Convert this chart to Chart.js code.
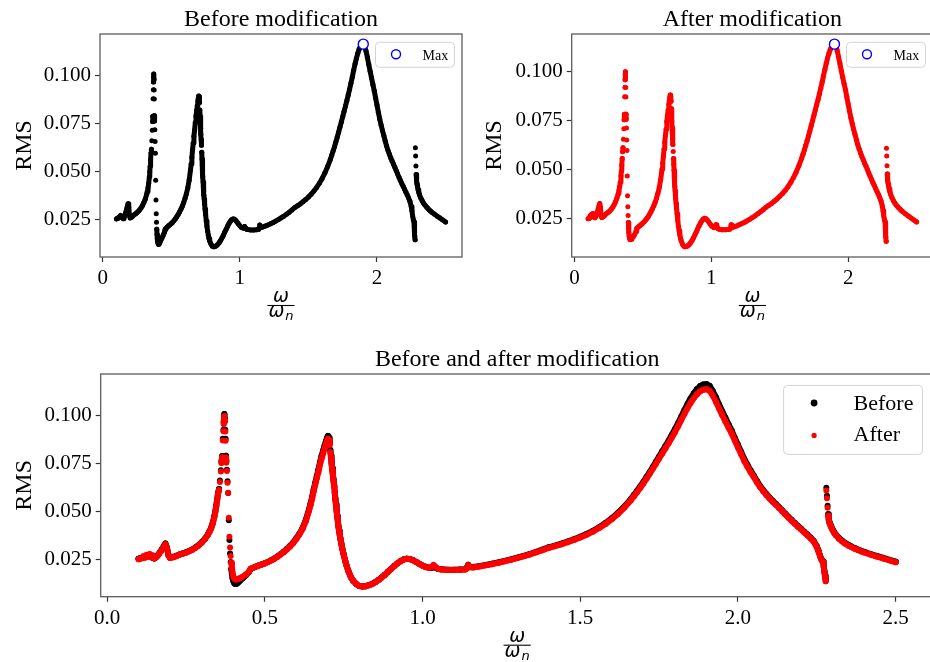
<!DOCTYPE html>
<html>
<head>
<meta charset="utf-8">
<title>RMS before and after modification</title>
<script src="https://cdn.jsdelivr.net/npm/chart.js@4.4.1/dist/chart.umd.min.js"></script>
<style>
  html, body { margin: 0; padding: 0; background: #fff; overflow: hidden; width: 930px; height: 662px; }
  canvas { position: absolute; }
  #before { left: 0; top: 0; }
  #after { left: 470px; top: 0; }
  #both { left: 0; top: 340px; }
</style>
</head>
<body>
<canvas id="before" width="470" height="330"></canvas>
<canvas id="after" width="470" height="330"></canvas>
<canvas id="both" width="940" height="322"></canvas>
<script>
// frequency ratio w/wn (x) and RMS response
const omega = [
  0.100,0.105,0.110,0.115,0.120,0.125,0.130,0.135,0.140,0.145,
  0.150,0.155,0.160,0.165,0.170,0.175,0.180,0.185,0.190,0.195,
  0.200,0.210,0.220,0.230,0.240,0.250,0.260,0.270,0.280,0.290,
  0.300,0.310,0.320,0.325,0.330,0.335,0.340,0.343,0.346,0.349,
  0.352,0.355,0.358,0.361,0.363,0.365,0.367,0.369,0.370,0.371,
  0.372,0.374,0.375,0.376,0.377,0.378,0.380,0.382,0.384,0.386,
  0.388,0.390,0.392,0.394,0.396,0.398,0.400,0.403,0.406,0.410,
  0.415,0.420,0.430,0.440,0.450,0.455,0.460,0.470,0.480,0.490,
  0.500,0.510,0.520,0.530,0.540,0.550,0.560,0.570,0.580,0.590,
  0.600,0.610,0.620,0.630,0.640,0.645,0.650,0.655,0.660,0.665,
  0.670,0.675,0.680,0.685,0.690,0.694,0.697,0.700,0.702,0.704,0.706,0.708,
  0.710,0.712,0.714,0.716,0.718,0.720,0.722,0.724,0.726,0.728,
  0.730,0.732,0.734,0.736,0.738,0.740,0.743,0.746,0.750,0.755,
  0.760,0.765,0.770,0.775,0.780,0.790,0.800,0.810,0.820,0.830,
  0.840,0.850,0.860,0.870,0.880,0.890,0.900,0.910,0.920,0.930,
  0.940,0.950,0.960,0.970,0.980,0.990,1.000,1.010,1.020,1.030,
  1.035,1.040,1.050,1.060,1.080,1.100,1.120,1.135,1.140,1.145,
  1.150,1.160,1.180,1.200,1.220,1.240,1.260,1.280,1.300,1.320,
  1.340,1.360,1.380,1.400,1.420,1.440,1.460,1.480,1.500,1.520,
  1.540,1.560,1.580,1.600,1.620,1.640,1.660,1.670,1.680,1.690,
  1.700,1.710,1.720,1.730,1.740,1.750,1.760,1.770,1.780,1.790,
  1.800,1.810,1.820,1.830,1.840,1.850,1.860,1.870,1.880,1.890,
  1.900,1.910,1.920,1.930,1.940,1.950,1.960,1.970,1.980,1.990,
  2.000,2.010,2.020,2.030,2.040,2.050,2.060,2.070,2.080,2.090,
  2.100,2.110,2.120,2.130,2.140,2.150,2.160,2.170,2.180,2.190,
  2.200,2.210,2.220,2.230,2.240,2.250,2.255,2.260,2.265,2.270,
  2.272,2.274,2.276,2.278,2.280,2.282,2.284,2.286,2.288,2.290,
  2.293,2.296,2.300,2.305,2.310,2.320,2.330,2.340,2.350,2.360,
  2.370,2.380,2.390,2.400,2.420,2.440,2.460,2.480,2.500
];

const rmsBefore = [
  0.0254,0.0256,0.0257,0.0261,0.0264,0.0268,0.0272,0.0266,0.0262,0.0258,
  0.0255,0.0260,0.0270,0.0281,0.0293,0.0306,0.0320,0.0333,0.0312,0.0272,
  0.0259,0.0263,0.0269,0.0276,0.0281,0.0287,0.0294,0.0302,0.0312,0.0324,
  0.0339,0.0357,0.0382,0.0397,0.0415,0.0440,0.0474,0.0499,0.0529,0.0563,
  0.0598,0.0618,0.0662,0.0716,0.0762,0.0790,0.0881,0.0928,0.0968,0.0994,
  0.1010,0.0982,0.0927,0.0880,0.0792,0.0765,0.0719,0.0658,0.0597,0.0455,
  0.0352,0.0281,0.0236,0.0200,0.0172,0.0152,0.0139,0.0127,0.0121,0.0122,
  0.0128,0.0136,0.0151,0.0167,0.0184,0.0199,0.0204,0.0211,0.0218,0.0224,
  0.0230,0.0237,0.0245,0.0255,0.0265,0.0277,0.0290,0.0304,0.0320,0.0338,
  0.0360,0.0385,0.0415,0.0455,0.0510,0.0540,0.0575,0.0615,0.0650,0.0685,
  0.0718,0.0757,0.0790,0.0818,0.0847,0.0868,0.0884,0.0895,0.0893,0.0885,0.0862,0.0822,
  0.0790,0.0756,0.0726,0.0696,0.0668,0.0638,0.0602,0.0567,0.0536,0.0505,
  0.0475,0.0446,0.0421,0.0398,0.0378,0.0358,0.0331,0.0306,0.0278,0.0243,
  0.0214,0.0190,0.0169,0.0152,0.0139,0.0121,0.0111,0.0108,0.0110,0.0115,
  0.0122,0.0131,0.0142,0.0155,0.0169,0.0185,0.0200,0.0215,0.0229,0.0241,
  0.0250,0.0254,0.0252,0.0246,0.0237,0.0227,0.0218,0.0211,0.0207,0.0207,
  0.0214,0.0208,0.0200,0.0198,0.0196,0.0196,0.0197,0.0198,0.0206,0.0222,
  0.0211,0.0210,0.0215,0.0221,0.0227,0.0234,0.0242,0.0250,0.0259,0.0268,
  0.0278,0.0289,0.0301,0.0313,0.0322,0.0332,0.0343,0.0355,0.0368,0.0383,
  0.0399,0.0418,0.0440,0.0465,0.0494,0.0527,0.0565,0.0586,0.0608,0.0631,
  0.0655,0.0680,0.0706,0.0733,0.0760,0.0787,0.0815,0.0843,0.0870,0.0900,
  0.0930,0.0962,0.0995,0.1030,0.1062,0.1092,0.1118,0.1140,0.1156,0.1164,
  0.1166,0.1157,0.1130,0.1097,0.1060,0.1024,0.0990,0.0956,0.0923,0.0885,
  0.0848,0.0811,0.0775,0.0744,0.0715,0.0688,0.0660,0.0634,0.0612,0.0592,
  0.0573,0.0556,0.0540,0.0523,0.0506,0.0489,0.0472,0.0456,0.0440,0.0425,
  0.0410,0.0395,0.0380,0.0364,0.0346,0.0318,0.0296,0.0270,0.0250,0.0238,
  0.0212,0.0188,0.0165,0.0145,0.0625,0.0582,0.0530,0.0486,0.0460,0.0446,
  0.0432,0.0420,0.0406,0.0392,0.0380,0.0362,0.0348,0.0336,0.0326,0.0317,
  0.0309,0.0302,0.0295,0.0289,0.0278,0.0268,0.0258,0.0248,0.0238
];

const rmsAfter = [
  0.0251,0.0253,0.0256,0.0266,0.0259,0.0273,0.0264,0.0278,0.0261,0.0271,
  0.0256,0.0262,0.0268,0.0279,0.0291,0.0304,0.0317,0.0329,0.0309,0.0270,
  0.0257,0.0261,0.0267,0.0275,0.0280,0.0285,0.0292,0.0300,0.0310,0.0322,
  0.0337,0.0355,0.0379,0.0394,0.0412,0.0436,0.0469,0.0494,0.0523,0.0557,
  0.0592,0.0612,0.0655,0.0709,0.0754,0.0783,0.0872,0.0920,0.0958,0.0985,
  0.0998,0.0972,0.0918,0.0870,0.0783,0.0757,0.0712,0.0651,0.0598,0.0468,
  0.0368,0.0312,0.0268,0.0232,0.0203,0.0180,0.0163,0.0151,0.0146,0.0145,
  0.0147,0.0151,0.0160,0.0171,0.0186,0.0201,0.0205,0.0211,0.0217,0.0223,
  0.0229,0.0236,0.0244,0.0253,0.0263,0.0275,0.0288,0.0302,0.0317,0.0335,
  0.0356,0.0381,0.0410,0.0449,0.0503,0.0533,0.0567,0.0606,0.0641,0.0675,
  0.0707,0.0745,0.0777,0.0804,0.0832,0.0853,0.0869,0.0880,0.0878,0.0871,0.0849,0.0810,
  0.0778,0.0745,0.0715,0.0686,0.0658,0.0628,0.0593,0.0558,0.0528,0.0497,
  0.0468,0.0440,0.0415,0.0393,0.0373,0.0354,0.0328,0.0303,0.0276,0.0242,
  0.0213,0.0190,0.0169,0.0152,0.0139,0.0121,0.0111,0.0108,0.0110,0.0115,
  0.0121,0.0130,0.0141,0.0154,0.0168,0.0184,0.0199,0.0214,0.0228,0.0240,
  0.0249,0.0253,0.0251,0.0245,0.0236,0.0226,0.0217,0.0210,0.0206,0.0211,
  0.0221,0.0213,0.0200,0.0197,0.0195,0.0195,0.0196,0.0197,0.0203,0.0220,
  0.0209,0.0208,0.0213,0.0219,0.0225,0.0232,0.0240,0.0248,0.0257,0.0266,
  0.0276,0.0287,0.0298,0.0310,0.0319,0.0329,0.0340,0.0352,0.0365,0.0379,
  0.0395,0.0414,0.0435,0.0460,0.0488,0.0521,0.0558,0.0579,0.0601,0.0623,
  0.0647,0.0672,0.0697,0.0724,0.0750,0.0777,0.0804,0.0831,0.0857,0.0886,
  0.0915,0.0946,0.0978,0.1010,0.1041,0.1069,0.1093,0.1113,0.1129,0.1137,
  0.1139,0.1131,0.1106,0.1074,0.1039,0.1004,0.0971,0.0939,0.0908,0.0871,
  0.0835,0.0799,0.0764,0.0734,0.0706,0.0680,0.0653,0.0628,0.0606,0.0587,
  0.0568,0.0551,0.0535,0.0519,0.0502,0.0485,0.0468,0.0452,0.0436,0.0421,
  0.0406,0.0391,0.0376,0.0360,0.0342,0.0314,0.0292,0.0266,0.0246,0.0234,
  0.0208,0.0182,0.0158,0.0136,0.0610,0.0570,0.0520,0.0478,0.0452,0.0440,
  0.0428,0.0416,0.0402,0.0388,0.0376,0.0358,0.0344,0.0332,0.0322,0.0314,
  0.0306,0.0299,0.0292,0.0286,0.0275,0.0265,0.0255,0.0245,0.0235
];

const topXTicks = [0, 1, 2];
const bottomXTicks = [0.0, 0.5, 1.0, 1.5, 2.0, 2.5];
const yTicks = [0.025, 0.050, 0.075, 0.100];

const SERIF = "'Liberation Serif', 'Times New Roman', Times, serif";
const MATH = "'DejaVu Sans', sans-serif";

function toPoints(ys) {
  return omega.map((x, i) => ({ x: x, y: ys[i] }));
}

function maxPoint(ys) {
  let k = 0;
  ys.forEach((v, i) => { if (v > ys[k]) k = i; });
  return [{ x: omega[k], y: ys[k] }];
}

// matplotlib-style 5% margins around the data
function padRange(values) {
  const lo = Math.min(...values), hi = Math.max(...values);
  const m = (hi - lo) * 0.05;
  return [lo - m, hi + m];
}

// dotted sweep: finely sampled steep stretches stay as separate dots,
// everything else is joined into a solid band of the dot's width
function sweep(label, ys, color, r, order) {
  return {
    label: label,
    data: toPoints(ys),
    showLine: true,
    borderColor: color,
    backgroundColor: color,
    borderWidth: r * 2,
    borderCapStyle: 'round',
    borderJoinStyle: 'round',
    pointRadius: r,
    pointBorderWidth: 0,
    pointBackgroundColor: color,
    order: order,
    segment: {
      borderColor: ctx => {
        const step = omega[ctx.p1DataIndex] - omega[ctx.p0DataIndex];
        return (step < 0.0045 && Math.abs(ctx.p1.y - ctx.p0.y) > 6.8) ? 'rgba(0,0,0,0)' : color;
      }
    }
  };
}

function maxMarker(ys) {
  return {
    label: 'Max',
    data: maxPoint(ys),
    showLine: false,
    pointRadius: 5,
    pointBackgroundColor: '#ffffff',
    pointBorderColor: '#0000ff',
    pointBorderWidth: 1.4,
    order: 0
  };
}

function roundBox(ctx, x, y, w, h, r) {
  ctx.beginPath();
  ctx.moveTo(x + r, y);
  ctx.lineTo(x + w - r, y);
  ctx.arcTo(x + w, y, x + w, y + r, r);
  ctx.lineTo(x + w, y + h - r);
  ctx.arcTo(x + w, y + h, x + w - r, y + h, r);
  ctx.lineTo(x + r, y + h);
  ctx.arcTo(x, y + h, x, y + h - r, r);
  ctx.lineTo(x, y + r);
  ctx.arcTo(x, y, x + r, y, r);
  ctx.closePath();
  ctx.fillStyle = 'rgba(255,255,255,0.85)';
  ctx.fill();
  ctx.strokeStyle = '#d4d4d4';
  ctx.lineWidth = 1;
  ctx.stroke();
}

// w / w_n written as a fraction under the x axis
function drawFraction(ctx, cx, y0) {
  ctx.fillStyle = '#000';
  ctx.strokeStyle = '#000';
  ctx.textAlign = 'left';
  ctx.textBaseline = 'alphabetic';
  ctx.font = 'italic 19px ' + MATH;
  const w = ctx.measureText('ω').width;
  ctx.font = 'italic 13px ' + MATH;
  const wn = ctx.measureText('n').width;
  const wd = w + wn + 1;
  ctx.font = 'italic 19px ' + MATH;
  ctx.fillText('ω', cx - w / 2, y0 + 45);
  ctx.lineWidth = 1.1;
  ctx.beginPath();
  ctx.moveTo(cx - wd / 2 - 1, y0 + 48.5);
  ctx.lineTo(cx + wd / 2 + 1, y0 + 48.5);
  ctx.stroke();
  ctx.fillText('ω', cx - wd / 2, y0 + 60);
  ctx.font = 'italic 13px ' + MATH;
  ctx.fillText('n', cx - wd / 2 + w + 1, y0 + 63);
}

const framePlugin = {
  id: 'frame',
  afterDraw(chart, args, opts) {
    const ctx = chart.ctx;
    const a = chart.chartArea;
    ctx.save();
    ctx.strokeStyle = '#5c5c5c';
    ctx.lineWidth = 1.3;
    ctx.strokeRect(a.left, a.top, a.right - a.left, a.bottom - a.top);

    drawFraction(ctx, (a.left + a.right) / 2, a.bottom);

    const lg = opts.legend;
    const bx = a.right - lg.right - lg.w;
    const by = a.top + lg.top;
    roundBox(ctx, bx, by, lg.w, lg.h, 4);
    ctx.textAlign = 'left';
    ctx.textBaseline = 'alphabetic';
    ctx.font = lg.size + 'px ' + SERIF;
    lg.items.forEach(it => {
      ctx.beginPath();
      ctx.arc(bx + lg.markerX, by + it.my, it.r, 0, Math.PI * 2);
      if (it.hollow) {
        ctx.fillStyle = '#fff';
        ctx.fill();
        ctx.strokeStyle = it.color;
        ctx.lineWidth = 1.4;
        ctx.stroke();
      } else {
        ctx.fillStyle = it.color;
        ctx.fill();
      }
      ctx.fillStyle = '#000';
      ctx.fillText(it.text, bx + lg.textX, by + it.ty);
    });
    ctx.restore();
  }
};

function makeChart(id, cfg) {
  const xr = padRange(omega);
  const yr = padRange(cfg.ranges.flat());
  return new Chart(document.getElementById(id), {
    type: 'scatter',
    data: { datasets: cfg.datasets },
    options: {
      responsive: false,
      animation: false,
      events: [],
      layout: { padding: { left: 0, right: cfg.right, top: 0, bottom: 0 }, autoPadding: false },
      plugins: {
        legend: { display: false },
        tooltip: { enabled: false },
        title: {
          display: true,
          text: cfg.title,
          fullSize: false,
          color: '#000',
          font: { family: SERIF, size: 24, weight: 'normal', lineHeight: 1 },
          padding: { top: 8, bottom: 2 }
        },
        frame: { legend: cfg.legend }
      },
      scales: {
        x: {
          type: 'linear',
          min: xr[0],
          max: xr[1],
          afterBuildTicks: s => { s.ticks = cfg.xTicks.map(v => ({ value: v })); },
          afterFit: s => { s.height = cfg.xHeight; },
          border: { display: false },
          grid: { drawOnChartArea: false, drawTicks: true, tickLength: 5, tickWidth: 1.2, tickColor: '#333' },
          ticks: {
            color: '#000',
            font: { family: SERIF, size: 21 },
            padding: 4,
            maxRotation: 0,
            autoSkip: false,
            callback: v => v.toFixed(cfg.xDigits)
          }
        },
        y: {
          type: 'linear',
          min: yr[0],
          max: yr[1],
          afterBuildTicks: s => { s.ticks = yTicks.map(v => ({ value: v })); },
          afterFit: s => { s.width = cfg.yWidth; },
          border: { display: false },
          grid: { drawOnChartArea: false, drawTicks: true, tickLength: 5, tickWidth: 1.2, tickColor: '#333' },
          ticks: {
            color: '#000',
            font: { family: SERIF, size: 21 },
            padding: 4,
            callback: v => v.toFixed(3)
          },
          title: {
            display: true,
            text: 'RMS',
            color: '#000',
            font: { family: SERIF, size: 24, weight: 'normal', lineHeight: 1 },
            padding: { top: 13, bottom: 0 }
          }
        }
      }
    },
    plugins: [framePlugin]
  });
}

const maxLegend = {
  w: 79, h: 25, right: 7.5, top: 8.3, size: 14, markerX: 20.5, textX: 47,
  items: [{ text: 'Max', color: '#0000ff', r: 4.5, hollow: true, my: 12, ty: 17.5 }]
};

makeChart('before', {
  title: 'Before modification',
  datasets: [maxMarker(rmsBefore), sweep('Before', rmsBefore, '#000000', 2.5, 2)],
  ranges: [rmsBefore],
  xTicks: topXTicks, xDigits: 0,
  right: 8, xHeight: 73, yWidth: 100,
  legend: maxLegend
});

makeChart('after', {
  title: 'After modification',
  datasets: [maxMarker(rmsAfter), sweep('After', rmsAfter, '#ff0000', 2.5, 2)],
  ranges: [rmsAfter],
  xTicks: topXTicks, xDigits: 0,
  right: 7, xHeight: 73, yWidth: 101.7,
  legend: maxLegend
});

makeChart('both', {
  title: 'Before and after modification',
  datasets: [sweep('After', rmsAfter, '#ff0000', 3, 1), sweep('Before', rmsBefore, '#000000', 3, 2)],
  ranges: [rmsBefore, rmsAfter],
  xTicks: bottomXTicks, xDigits: 1,
  right: 6.4, xHeight: 65.3, yWidth: 100.7,
  legend: {
    w: 139, h: 69, right: 11, top: 11.4, size: 22, markerX: 30.5, textX: 70,
    items: [
      { text: 'Before', color: '#000000', r: 3.4, my: 17.6, ty: 24.5 },
      { text: 'After', color: '#ff0000', r: 2.6, my: 50, ty: 56 }
    ]
  }
});
</script>
</body>
</html>
